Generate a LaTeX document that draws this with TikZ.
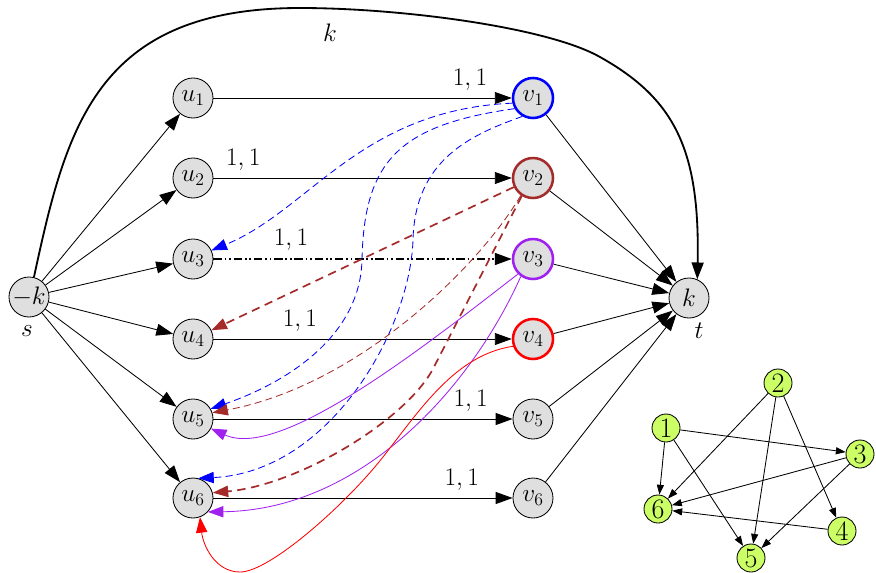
\RequirePackage{fix-cm}
\documentclass[tikz,border=0pt]{standalone}
\usetikzlibrary{arrows.meta}
\definecolor{brn}{RGB}{165,42,42}
\definecolor{prp}{RGB}{160,32,240}
\definecolor{lgreen}{RGB}{204,255,102}
\begin{document}
\begin{tikzpicture}[x=0.025cm,y=-0.025cm,
  vtx/.style={circle,draw,fill=gray!25,minimum size=1cm,inner sep=0pt,line width=0.6pt,font=\fontsize{18}{21}\selectfont},
  sv/.style={circle,draw,fill=lgreen,minimum size=0.7cm,inner sep=0pt,line width=0.6pt,font=\fontsize{20}{22}\selectfont},
  lbl/.style={font=\fontsize{18}{21}\selectfont},
  edge/.style={line width=0.6pt,-{Triangle[length=12pt,width=8.5pt]}},
  cedge/.style={line width=0.6pt,-{Triangle[length=11pt,width=8pt]}},
  sedge/.style={line width=0.6pt,-{Triangle[length=7pt,width=5pt]}},
  bdash/.style={cedge,blue,dash pattern=on 5pt off 3pt},
  brthin/.style={cedge,brn,dash pattern=on 5pt off 3pt},
  brthick/.style={cedge,brn,line width=1.2pt,dash pattern=on 6pt off 4pt},
  pline/.style={cedge,prp},
  rline/.style={cedge,red}]
\useasboundingbox (0,0) rectangle (876,573);
% main nodes
\node[vtx] (s) at (29,297) {$-k$};
\node[vtx] (t) at (689,298) {$k$};
\node[vtx] (u1) at (193,98) {$u_1$};
\node[vtx] (u2) at (193,178) {$u_2$};
\node[vtx] (u3) at (193,259) {$u_3$};
\node[vtx] (u4) at (193,339) {$u_4$};
\node[vtx] (u5) at (193,419) {$u_5$};
\node[vtx] (u6) at (193,498) {$u_6$};
\node[vtx,draw=blue,line width=1.8pt] (v1) at (533,98) {$v_1$};
\node[vtx,draw=brn,line width=1.8pt] (v2) at (533,178) {$v_2$};
\node[vtx,draw=prp,line width=1.8pt] (v3) at (533,259) {$v_3$};
\node[vtx,draw=red,line width=1.8pt] (v4) at (533,339) {$v_4$};
\node[vtx] (v5) at (533,419) {$v_5$};
\node[vtx] (v6) at (533,498) {$v_6$};
\node[lbl] (ls) at (27,331) {$s$};
\node[lbl] (lt) at (699,331) {$t$};
\node[lbl] (lk) at (330,33) {$k$};
% s to u
\foreach \i in {1,...,6} \draw[edge] (s) -- (u\i);
% v to t
\foreach \i in {1,...,6} \draw[edge] (v\i) -- (t);
% u to v
\draw[edge] (u1) -- node[lbl,pos=0.86,above=2pt] {$1,1$} (v1);
\draw[edge] (u2) -- node[lbl,pos=0.1,above=2pt] {$1,1$} (v2);
\draw[edge,line width=1.2pt,dash pattern=on 6pt off 2pt on 1.2pt off 2pt on 1.2pt off 2pt] (u3) -- node[lbl,pos=0.26,above=2pt] {$1,1$} (v3);
\draw[edge] (u4) -- node[lbl,pos=0.29,above=2pt] {$1,1$} (v4);
\draw[edge] (u5) -- node[lbl,pos=0.86,above=2pt] {$1,1$} (v5);
\draw[edge] (u6) -- node[lbl,pos=0.83,above=2pt] {$1,1$} (v6);
% top curve
\draw[edge,line width=1.3pt] (s.76) .. controls (66,129) and (95,8) .. (300,8)
  .. controls (400,8) and (547,27) .. (600,57)
  .. controls (675,99) and (700,150) .. (t.66);
% blue
\draw[bdash] (v1.194) .. controls (360,110) and (310,210) .. (u3.25);
\draw[bdash] (v1.210) .. controls (400,125) and (364,160) .. (362,260)
  .. controls (360,340) and (280,385) .. (u5.30);
\draw[bdash] (v1.240) .. controls (470,135) and (415,160) .. (413,240)
  .. controls (410,330) and (330,472) .. (u6.75);
% brown
\draw[brthick] (v2) -- (u4);
\draw[brthin] (v2.235) .. controls (480,265) and (360,385) .. (u5.18);
\draw[brthick] (v2.238) -- (435,365) .. controls (410,418) and (300,485) .. (u6.15);
% purple
\draw[pline] (v3.225) .. controls (420,350) and (280,460) .. (u5.-28);
\draw[pline] (v3.235) .. controls (470,390) and (360,510) .. (u6.-43);
% red
\draw[rline] (v4.200) .. controls (455,355) and (420,410) .. (383,457)
  .. controls (346,504) and (270,572) .. (240,572)
  .. controls (215,572) and (203,545) .. (u6.-70);
% small graph
\node[sv] (n1) at (666,428) {1};
\node[sv] (n2) at (778,383) {2};
\node[sv] (n3) at (860,454) {3};
\node[sv] (n4) at (842,531) {4};
\node[sv] (n5) at (751,558) {5};
\node[sv] (n6) at (658,509) {6};
\draw[sedge] (n1) -- (n3);
\draw[sedge] (n1) -- (n6);
\draw[sedge] (n1) -- (n5);
\draw[sedge] (n2) -- (n6);
\draw[sedge] (n2) -- (n5);
\draw[sedge] (n2) -- (n4);
\draw[sedge] (n3) -- (n6);
\draw[sedge] (n3) -- (n5);
\draw[sedge] (n4) -- (n6);
\end{tikzpicture}
\end{document}
